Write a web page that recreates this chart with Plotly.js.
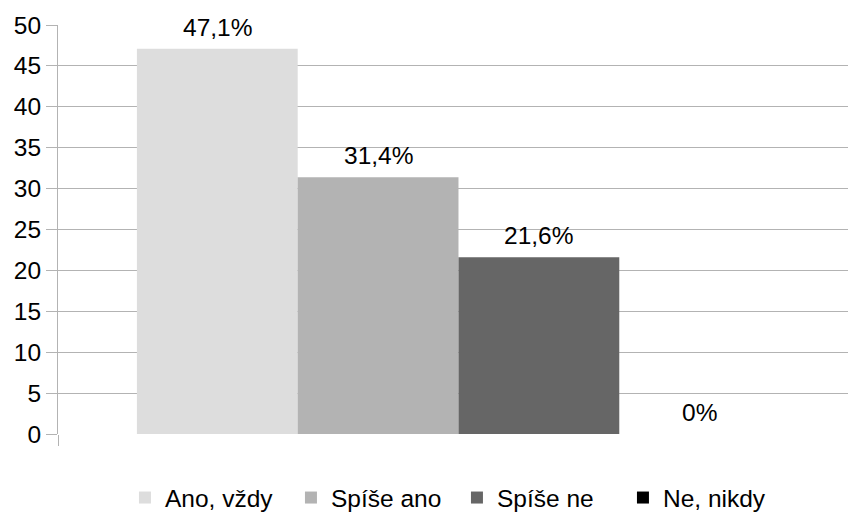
<!DOCTYPE html>
<html>
<head>
<meta charset="utf-8">
<script src="https://cdn.plot.ly/plotly-3.0.1.min.js"></script>
<style>html,body{margin:0;padding:0;background:#fff;}#chart{width:848px;height:513px;}</style>
</head>
<body>
<div id="chart"></div>
<script>
const categories = [""];
const seriesNames = ["Ano, vždy", "Spíše ano", "Spíše ne", "Ne, nikdy"];
const seriesValues = [[47.1], [31.4], [21.6], [0]];
const seriesLabels = [["47,1%"], ["31,4%"], ["21,6%"], ["0%"]];
const seriesColors = ["#dddddd", "#b3b3b3", "#666666", "#000000"];
const yTicks = [0, 5, 10, 15, 20, 25, 30, 35, 40, 45, 50];

const font = "Liberation Sans, Arial, sans-serif";
const FS = 24.5;
const bargap = 0.197;

const traces = seriesNames.map((name, i) => ({
  type: "bar",
  name: name,
  x: categories,
  y: seriesValues[i],
  marker: {color: seriesColors[i]},
  hoverinfo: "skip"
}));

// data labels placed above each bar (bar centers follow the grouped layout)
const n = seriesNames.length;
const barW = (1 - bargap) / n;
const annotations = [];
seriesNames.forEach((name, i) => {
  seriesValues[i].forEach((v, j) => {
    annotations.push({
      xref: "x", yref: "y",
      x: j - (1 - bargap) / 2 + barW * (i + 0.5),
      y: v,
      text: seriesLabels[i][j],
      showarrow: false,
      xanchor: "center", yanchor: "bottom",
      yshift: 6,
      font: {family: font, size: FS, color: "#000000"}
    });
  });
});

const layout = {
  width: 848, height: 513,
  margin: {l: 58, r: 0, t: 25, b: 79, pad: 0, autoexpand: false},
  paper_bgcolor: "#ffffff", plot_bgcolor: "#ffffff",
  barmode: "group", bargap: bargap, bargroupgap: 0,
  font: {family: font, size: FS, color: "#000000"},
  showlegend: true,
  legend: {orientation: "h", x: 0.505, xanchor: "center", yref: "container", y: 0.03, yanchor: "middle",
           font: {family: font, size: FS, color: "#000000"}, traceorder: "normal",
           itemwidth: 30, entrywidthmode: "pixels", entrywidth: 121},
  annotations: annotations,
  xaxis: {type: "category", range: [-0.5, 0.4863], showgrid: false, zeroline: false,
          showline: false, ticks: "outside", tickson: "boundaries", ticklen: 11,
          tickcolor: "#b3b3b3", tickwidth: 1, showticklabels: false, fixedrange: true},
  yaxis: {range: [0, 50], tickvals: yTicks, ticktext: yTicks.map(String), showgrid: true,
          gridcolor: "#b3b3b3", gridwidth: 1, zeroline: false, showline: true,
          linecolor: "#b3b3b3", linewidth: 1, ticks: "outside", ticklen: 11,
          tickcolor: "#b3b3b3", tickfont: {family: font, size: FS, color: "#000000"},
          fixedrange: true}
};

Plotly.newPlot("chart", traces, layout, {displayModeBar: false, staticPlot: true});
</script>
</body>
</html>
